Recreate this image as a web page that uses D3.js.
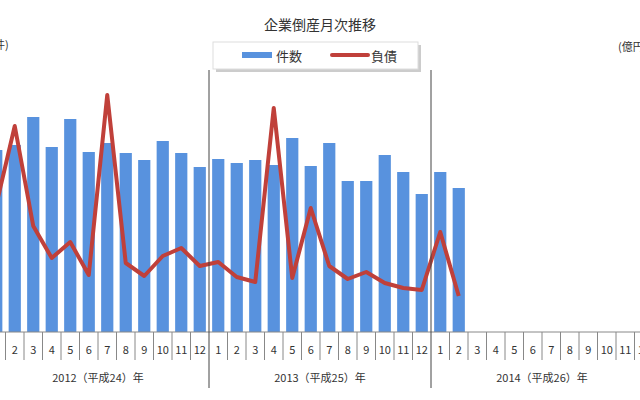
<!DOCTYPE html>
<html>
<head>
<meta charset="utf-8">
<script src="https://d3js.org/d3.v7.min.js"></script>
<style>
  body { margin:0; background:#fff; }
  text { font-family: "Noto Sans CJK JP", "DejaVu Sans", sans-serif; fill:#333; }
</style>
</head>
<body>
<script>
// months of 2012-2014, values only up to 2014-2
const years = ["2012（平成24）年", "2013（平成25）年", "2014（平成26）年"];
const months = [1,2,3,4,5,6,7,8,9,10,11,12];
const counts = [910,935,1075,925,1065,900,945,895,860,955,895,825,
                865,845,860,835,970,830,945,755,755,885,800,690,
                800,720];
const debts = [2540,4120,2120,1480,1800,1140,4740,1380,1120,1520,1680,1320,
               1400,1100,1000,4480,1080,2480,1320,1060,1200,980,880,840,
               2000,720];

const width = 640, height = 400;
const svg = d3.select("body").append("svg").attr("width", width).attr("height", height);

const slots = [];
years.forEach((y, yi) => months.forEach(m => slots.push(yi * 12 + m - 1)));

const x = d3.scaleBand().domain(slots).range([-13, 653]).paddingInner(0.34).paddingOuter(0.17);
const yCount = d3.scaleLinear().domain([0, 1500]).range([332, 32]);
const yDebt = d3.scaleLinear().domain([0, 6000]).range([332, 32]);

// bars
svg.selectAll("rect.bar").data(counts).join("rect")
    .attr("class", "bar")
    .attr("x", (d, i) => x(i))
    .attr("width", x.bandwidth())
    .attr("y", d => yCount(d))
    .attr("height", d => yCount(0) - yCount(d))
    .attr("fill", "#5892de");

// line
const line = d3.line()
    .x((d, i) => x(i) + x.bandwidth() / 2)
    .y(d => yDebt(d));
svg.append("path")
    .attr("d", line(debts))
    .attr("fill", "none")
    .attr("stroke", "#c0403a")
    .attr("stroke-width", 4)
    .attr("stroke-linejoin", "round");

// x axis: months
const step = x.step();
const start = x.range()[0];
svg.append("line").attr("x1", 0).attr("x2", width).attr("y1", 332).attr("y2", 332)
    .attr("stroke", "#888");
slots.forEach(i => {
    const xl = start + i * step;
    const isYear = i % 12 === 0;
    svg.append("line").attr("x1", xl).attr("x2", xl)
        .attr("y1", isYear ? (i === 0 ? 332 : 70) : 332)
        .attr("y2", isYear ? 388 : 360)
        .attr("stroke", isYear ? "#444" : "#888");
    svg.append("text").attr("x", xl + step / 2).attr("y", 354)
        .attr("text-anchor", "middle").style("font-size", "11px")
        .text(months[i % 12]);
});
years.forEach((y, yi) => {
    svg.append("text").attr("x", start + (yi * 12 + 6) * step).attr("y", 382)
        .attr("text-anchor", "middle").style("font-size", "11px").text(y);
});

// title and axis units
svg.append("text").attr("x", 320).attr("y", 30).attr("text-anchor", "middle")
    .style("font-size", "14px").text("企業倒産月次推移");
svg.append("text").attr("x", -6).attr("y", 49).style("font-size", "11px").text("件)");
svg.append("text").attr("x", 618).attr("y", 51).style("font-size", "11px").text("(億円)");

// legend
const lg = svg.append("g");
lg.append("rect").attr("x", 216).attr("y", 45).attr("width", 205).attr("height", 27)
    .attr("fill", "#999").attr("opacity", 0.5);
lg.append("rect").attr("x", 213).attr("y", 42).attr("width", 205).attr("height", 27)
    .attr("fill", "#fff").attr("stroke", "#ddd");
lg.append("rect").attr("x", 242).attr("y", 52).attr("width", 30).attr("height", 6).attr("fill", "#5892de");
lg.append("text").attr("x", 276).attr("y", 61).style("font-size", "13px").text("件数");
lg.append("line").attr("x1", 332).attr("x2", 368).attr("y1", 55).attr("y2", 55)
    .attr("stroke", "#c0403a").attr("stroke-width", 4).attr("stroke-linecap", "round");
lg.append("text").attr("x", 371).attr("y", 61).style("font-size", "13px").text("負債");
</script>
</body>
</html>
